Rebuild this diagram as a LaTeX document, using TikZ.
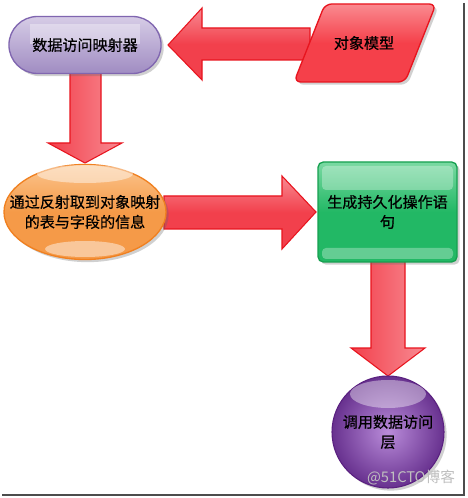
\documentclass[tikz,border=0pt]{standalone}
\usepackage{fontspec}
\newfontfamily\cjk[FakeBold=0.6]{Noto Sans CJK SC}
\newfontfamily\cjkwm{Noto Sans CJK SC}
\usetikzlibrary{shapes.misc,shapes.geometric,shadows,calc}
\definecolor{arrowred}{HTML}{F2404C}
\definecolor{arrowpink}{HTML}{F88A92}
\definecolor{arrowedge}{HTML}{E8141E}
\definecolor{lav}{HTML}{A08CC2}
\definecolor{lavlight}{HTML}{D6CCE6}
\definecolor{lavedge}{HTML}{8066B0}
\definecolor{org}{HTML}{F59A48}
\definecolor{orglight}{HTML}{FBC58E}
\definecolor{orgedge}{HTML}{F08020}
\definecolor{grn}{HTML}{22B865}
\definecolor{grnlight}{HTML}{7AD9A2}
\definecolor{grnedge}{HTML}{16A050}
\definecolor{pur}{HTML}{7A3AA8}
\definecolor{purlight}{HTML}{C9A0E6}
\definecolor{puredge}{HTML}{5A2080}
\definecolor{pgred}{HTML}{F5404A}
\definecolor{pglight}{HTML}{FA8A90}
\tikzset{
  txt/.style={font=\cjk\fontsize{11.3}{15}\selectfont, text=black, align=center, inner sep=0pt},
  harrow/.style={draw=arrowedge, line width=0.8pt, top color=arrowpink, bottom color=arrowred, middle color=arrowred, line join=miter},
  varrow/.style={draw=arrowedge, line width=0.8pt, left color=arrowred, right color=arrowpink, line join=miter},
  shd/.style={drop shadow={shadow xshift=2pt, shadow yshift=-2pt, opacity=0.3, fill=black!60}},
  gloss/.style={fill=white, fill opacity=0.35, draw=none},
}
\begin{document}
\begin{tikzpicture}[x=0.75pt,y=-0.75pt]
\useasboundingbox (0,0) rectangle (467,498);
\fill[white] (0,0) rectangle (467,498);
% frame shadow lines
\draw[black!70, line width=1.5pt] (463.5,3) -- (463.5,494.5) -- (2,494.5);
% arrows (drawn beneath the shapes)
\path[harrow] (168,45) -- (202,8) -- (202,28) -- (310,28) -- (310,60) -- (202,60) -- (202,80) -- cycle;
\path[varrow] (70,70) -- (101,70) -- (101,143) -- (122,143) -- (85,163) -- (48,143) -- (70,143) -- cycle;
\path[harrow] (164,196) -- (282,196) -- (282,176) -- (316,212) -- (282,249) -- (282,229) -- (164,229) -- cycle;
\path[varrow] (371,258) -- (405,258) -- (405,348) -- (425,348) -- (388,376) -- (351,348) -- (371,348) -- cycle;
% data access mapper
\node[rounded rectangle, shd, draw=lavedge, line width=1pt, top color=lavlight, bottom color=lav,
  minimum width=120.75pt, minimum height=42.75pt] (dam) at (85,45) {};
\fill[gloss] (30,24) rectangle (140,44);
\node[txt] (damt) at (dam.center) {数据访问映射器};
% object model parallelogram
\path[shd, draw=arrowedge, line width=1pt, top color=pglight, bottom color=pgred, middle color=pgred, rounded corners=5pt]
  (325,4) -- (436,4) -- (405,82) -- (294,82) -- cycle;
\coordinate (om) at (364,43);
\node[txt] (omt) at (om) {对象模型};
% ellipse
\node[ellipse, shd, draw=orgedge, line width=1pt, top color=orglight, bottom color=org, middle color=org,
  minimum width=121.5pt, minimum height=71.25pt, inner sep=0pt] (ell) at (85,212) {};
\fill[gloss, fill opacity=0.45] (85,174) ellipse (48 and 9);
\fill[gloss, fill opacity=0.45] (85,249) ellipse (40 and 8);
\node[txt] (ellt) at (85,212) {通过反射取到对象映射\\的表与字段的信息};
% green box
\node[rectangle, rounded corners=4pt, shd, draw=grnedge, line width=1pt, top color=grnlight, bottom color=grn, middle color=grn,
  minimum width=104.25pt, minimum height=75pt] (gen) at (387.5,212) {};
\fill[gloss, fill opacity=0.3, rounded corners=3pt] (322,166) rectangle (453,190);
\fill[gloss, fill opacity=0.3, rounded corners=3pt] (322,248) rectangle (453,259);
\node[txt] (gent) at (387.5,212) {生成持久化操作语\\句};
% sphere
\node[circle, shd, draw=puredge, line width=0.8pt, inner color=purlight!80!pur, outer color=pur!85!black,
  minimum size=84pt, inner sep=0pt] (dal) at (388,432) {};
\fill[gloss, fill opacity=0.4] (388,394) ellipse (38 and 14);
\node[txt] (dalt) at (388,432) {调用数据访问\\层};
% watermark
\node[font=\cjkwm\fontsize{11}{12}\selectfont, text=black!25, inner sep=0pt] (wm) at (411,478) {@51CTO博客};
\end{tikzpicture}
\end{document}
